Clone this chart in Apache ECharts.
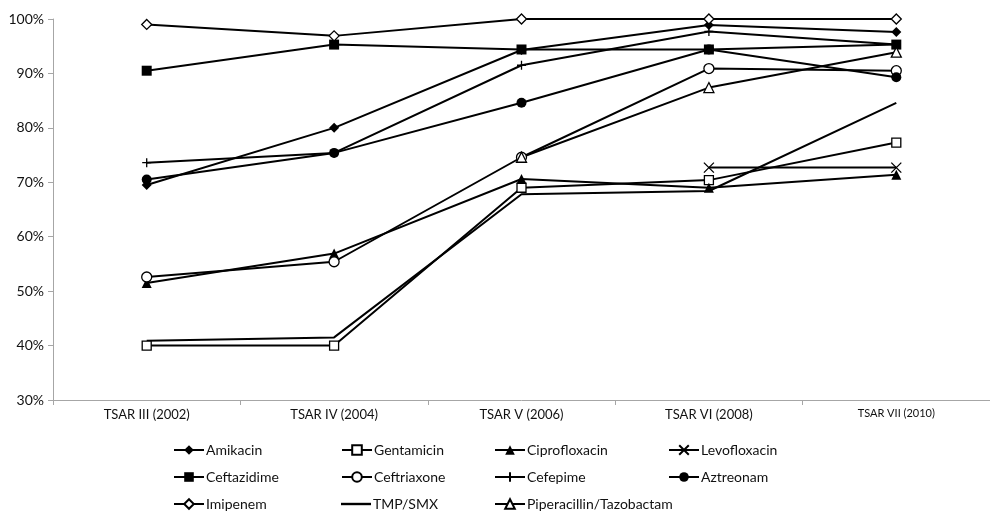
<!DOCTYPE html>
<html>
<head>
<meta charset="utf-8">
<script src="https://cdn.jsdelivr.net/npm/echarts@6/dist/echarts.min.js"></script>
<style>
  html, body { margin: 0; padding: 0; background: #fff; }
  #chart { width: 990px; height: 513px; }
</style>
</head>
<body>
<div id="chart"></div>
<script>
  // survey rounds
  const categories = ['TSAR III (2002)', 'TSAR IV (2004)', 'TSAR V (2006)', 'TSAR VI (2008)', 'TSAR VII (2010)'];
  const yTicks = [30, 40, 50, 60, 70, 80, 90, 100];

  // susceptibility (%) per drug
  const amikacin = [69.5, 80.0, 94.3, 98.9, 97.6];
  const gentamicin = [40.0, 40.0, 69.0, 70.4, 77.3];
  const ciprofloxacin = [51.5, 56.9, 70.6, 69.0, 71.4];
  const levofloxacin = [null, null, null, 72.7, 72.7];
  const ceftazidime = [90.5, 95.3, 94.4, 94.4, 95.3];
  const ceftriaxone = [52.6, 55.4, 74.6, 90.9, 90.5];
  const cefepime = [73.6, 75.4, 91.5, 97.7, 95.3];
  const aztreonam = [70.5, 75.4, 84.6, 94.4, 89.3];
  const imipenem = [99.0, 96.9, 100, 100, 100];
  const tmpSmx = [40.9, 41.5, 67.8, 68.4, 84.6];
  const piperacillin = [null, null, 74.6, 87.4, 93.9];

  const FONT = 'Lato, "Liberation Sans", sans-serif';
  const crossPath = 'path://M0,0L10,10M10,0L0,10';
  const plusPath = 'path://M5,0L5,10M0,5L10,5';
  const barIcon = 'path://M0,0L30,0L30,2.4L0,2.4Z';

  // name, data, symbol, filled, size
  const drugs = [
    ['Amikacin', amikacin, 'diamond', true, 10],
    ['Gentamicin', gentamicin, 'rect', false, 9],
    ['Ciprofloxacin', ciprofloxacin, 'triangle', true, 10],
    ['Levofloxacin', levofloxacin, crossPath, false, 10],
    ['Ceftazidime', ceftazidime, 'rect', true, 10],
    ['Ceftriaxone', ceftriaxone, 'circle', false, 10],
    ['Cefepime', cefepime, plusPath, false, 9],
    ['Aztreonam', aztreonam, 'circle', true, 10],
    ['Imipenem', imipenem, 'diamond', false, 10],
    ['TMP/SMX', tmpSmx, 'none', true, 1],
    ['Piperacillin/Tazobactam', piperacillin, 'triangle', false, 10]
  ];

  const series = drugs.map(function (d) {
    return {
      name: d[0],
      type: 'line',
      data: d[1],
      symbol: d[2],
      symbolSize: d[4],
      showAllSymbol: true,
      connectNulls: false,
      lineStyle: { color: '#000', width: 2 },
      itemStyle: {
        color: d[3] ? '#000' : '#fff',
        borderColor: '#000',
        borderWidth: d[3] ? 0 : 1.3
      },
      emphasis: { disabled: true },
      animation: false
    };
  });

  // legend grid: 4 columns x 3 rows
  const colX = [168, 336, 489, 663];
  const rowY = [438, 465, 492];
  const legends = drugs.map(function (d, i) {
    const item = d[2] === 'none' ? { name: d[0], icon: barIcon } : { name: d[0] };
    return {
      data: [item],
      left: colX[i % 4],
      top: rowY[Math.floor(i / 4)],
      itemWidth: 30,
      itemHeight: 12,
      itemGap: 2,
      selectedMode: false,
      textStyle: { fontFamily: FONT, fontSize: 14, color: '#111', padding: [0, 0, 0, -3] }
    };
  });

  const chart = echarts.init(document.getElementById('chart'));
  chart.setOption({
    backgroundColor: '#fff',
    animation: false,
    grid: { left: 53, top: 19, width: 945, height: 381, containLabel: false },
    legend: legends,
    xAxis: {
      type: 'category',
      boundaryGap: true,
      data: categories.map(function (c, i) {
        return i === categories.length - 1 ? { value: c, textStyle: { fontSize: 11 } } : c;
      }),
      axisLine: { lineStyle: { color: '#a6a6a6', width: 1 } },
      axisTick: { show: true, length: 5, lineStyle: { color: '#a6a6a6' } },
      axisLabel: { fontFamily: FONT, fontSize: 13, color: '#111', margin: 8 },
      splitLine: { show: false }
    },
    yAxis: {
      type: 'value',
      min: yTicks[0],
      max: yTicks[yTicks.length - 1],
      interval: 10,
      axisLine: { show: true, lineStyle: { color: '#a6a6a6', width: 1 } },
      axisTick: { show: true, length: 5, lineStyle: { color: '#a6a6a6' } },
      axisLabel: { fontFamily: FONT, fontSize: 14, color: '#111', margin: 9, formatter: '{value}%' },
      splitLine: { show: false }
    },
    series: series
  });
</script>
</body>
</html>
